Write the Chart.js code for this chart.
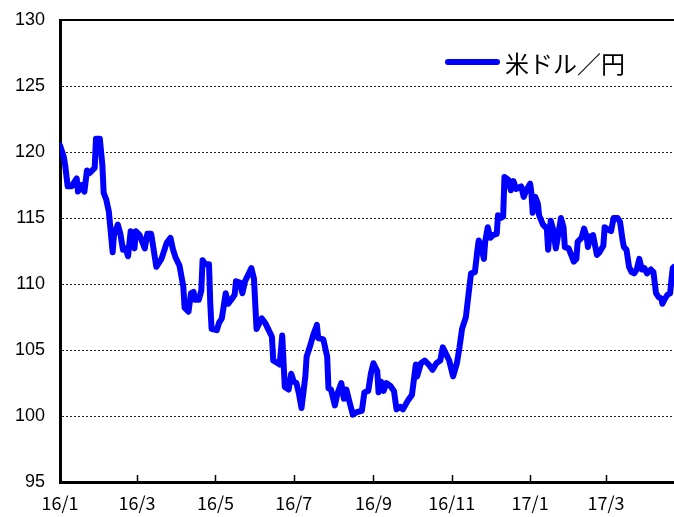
<!DOCTYPE html>
<html>
<head>
<meta charset="utf-8">
<script src="https://cdn.jsdelivr.net/npm/chart.js@4.4.0/dist/chart.umd.min.js"></script>
<style>
  html, body { margin: 0; padding: 0; background: #fff; }
  #wrap { position: relative; width: 674px; height: 517px; }
  #legend { position: absolute; left: 445px; top: 49px; height: 26px; line-height: 26px;
            font: 24px "Noto Sans CJK JP"; color: #000; display: flex; align-items: center; }
  #legend .bar { display: inline-block; width: 55px; height: 6px; border-radius: 3px;
                 background: #0000ff; margin-right: 5px; }
</style>
</head>
<body>
<div id="wrap">
  <canvas id="usdjpy" width="674" height="517"></canvas>
  <div id="legend"><span class="bar"></span>米ドル／円</div>
</div>
<script>
// days since 2016-01-01 and the USD/JPY rate
var days = [0, 3, 4, 6, 9, 13, 14, 17, 19, 21, 23, 27, 28, 31, 33, 34, 36, 38, 41, 42,
  45, 47, 49, 51, 53, 55, 58, 59, 62, 66, 68, 71, 75, 79, 83, 86, 88, 90, 93, 96,
  97, 100, 102, 104, 105, 108, 110, 111, 113, 116, 117, 118, 122, 124, 126, 129, 131, 134, 136, 137,
  140, 142, 144, 146, 149, 151, 153, 157, 160, 162, 165, 166, 171, 173, 175, 178, 180, 182, 184, 186,
  188, 191, 192, 195, 197, 200, 201, 205, 208, 209, 211, 214, 216, 219, 221, 223, 225, 228, 231, 235,
  237, 240, 242, 244, 247, 248, 250, 252, 254, 257, 260, 262, 265, 267, 271, 274, 277, 278, 281, 284,
  287, 290, 293, 296, 298, 301, 303, 306, 309, 311, 313, 316, 318, 320, 323, 325, 326, 328, 330, 331,
  333, 335, 337, 340, 341, 343, 345, 346, 349, 351, 353, 355, 359, 361, 363, 366, 367, 368, 370, 372,
  373, 376, 379, 380, 382, 384, 386, 388, 390, 392, 393, 396, 398, 400, 402, 403, 406, 408, 410, 411,
  413, 415, 418, 420, 423, 424, 427, 429, 431, 434, 436, 438, 439, 441, 443, 445, 447, 449, 451, 453,
  455, 457, 460, 462, 464, 466, 468, 469, 471, 473, 475, 476, 477, 478];
var rates = [120.5, 119.6, 119.0, 117.4, 117.4, 118.0, 117.0, 117.5, 117.0, 118.6, 118.4, 118.8, 121.0, 121.0, 119.0, 116.9, 116.4, 115.5, 112.4, 113.7,
  114.5, 113.8, 112.6, 112.7, 112.1, 114.0, 112.7, 114.0, 113.7, 112.7, 113.8, 113.8, 111.3, 111.9, 113.1, 113.5, 112.6, 112.0, 111.4, 109.8,
  108.2, 107.9, 109.3, 109.4, 108.8, 108.8, 109.5, 111.8, 111.5, 111.5, 108.5, 106.6, 106.5, 107.1, 107.4, 109.3, 108.5, 108.9, 109.2, 110.2,
  110.1, 109.3, 110.2, 110.6, 111.2, 110.4, 106.6, 107.4, 107.0, 106.6, 106.0, 104.2, 103.9, 106.1, 102.2, 102.0, 103.2, 102.6, 102.5, 101.7,
  100.6, 103.0, 104.5, 105.4, 106.1, 106.9, 105.9, 105.8, 104.5, 102.1, 102.0, 100.8, 101.7, 102.5, 101.3, 102.0, 101.2, 100.1, 100.3, 100.4,
  101.8, 101.9, 103.2, 104.0, 103.4, 101.8, 102.6, 101.9, 102.5, 102.3, 101.9, 100.5, 100.7, 100.5, 101.2, 101.6, 103.9, 103.0, 104.0, 104.2,
  103.9, 103.5, 104.0, 104.2, 105.2, 104.6, 104.2, 103.0, 104.0, 105.2, 106.6, 107.5, 109.2, 110.8, 110.9, 112.6, 113.3, 112.8, 111.9, 113.2,
  114.3, 113.5, 113.7, 113.8, 115.2, 115.0, 115.1, 118.1, 117.9, 117.1, 117.8, 117.2, 117.4, 116.6, 117.1, 117.6, 116.9, 115.4, 116.6, 116.1,
  115.2, 114.5, 114.2, 112.6, 114.8, 114.1, 112.7, 113.8, 115.0, 114.3, 112.8, 112.7, 112.2, 111.7, 111.9, 113.2, 113.5, 114.2, 113.6, 112.8,
  113.6, 113.7, 112.2, 112.4, 112.9, 114.3, 114.1, 114.0, 115.0, 115.0, 114.7, 113.3, 112.8, 112.6, 111.3, 110.9, 110.8, 111.1, 111.9, 111.1,
  111.2, 110.8, 111.1, 110.9, 109.3, 109.0, 108.9, 108.5, 108.9, 109.2, 109.3, 110.3, 111.2, 111.3];

// x-axis ticks: first day of every second month
var monthTicks = [0, 60, 121, 182, 244, 305, 366, 425];
var monthLabels = ['16/1', '16/3', '16/5', '16/7', '16/9', '16/11', '17/1', '17/3'];
var yMin = 95, yMax = 130, yStep = 5;

var points = days.map(function(d, i) { return { x: d, y: rates[i] }; });

// small tick marks inside the plot on the x axis, plus the top frame line
var frame = {
  id: 'frame',
  afterDraw: function(chart) {
    var ctx = chart.ctx, area = chart.chartArea, xs = chart.scales.x;
    ctx.save();
    ctx.strokeStyle = '#000';
    ctx.lineWidth = 1.5;
    monthTicks.forEach(function(d) {
      var px = Math.round(xs.getPixelForValue(d)) + 0.5;
      ctx.beginPath();
      ctx.moveTo(px, area.bottom);
      ctx.lineTo(px, area.bottom - 7);
      ctx.stroke();
    });
    ctx.lineWidth = 2;
    ctx.beginPath();
    ctx.moveTo(area.left, area.top);
    ctx.lineTo(area.right, area.top);
    ctx.stroke();
    ctx.restore();
  }
};

new Chart(document.getElementById('usdjpy'), {
  type: 'line',
  data: {
    datasets: [{
      label: '米ドル／円',
      data: points,
      borderColor: '#0000ff',
      borderWidth: 6,
      borderJoinStyle: 'round',
      borderCapStyle: 'round',
      pointRadius: 0,
      tension: 0,
      fill: false
    }]
  },
  options: {
    responsive: false,
    animation: false,
    layout: { padding: { top: 20, right: 0, bottom: 0, left: 0 } },
    plugins: { legend: { display: false }, tooltip: { enabled: false } },
    scales: {
      x: {
        type: 'linear',
        min: 0,
        max: 478,
        afterBuildTicks: function(scale) {
          scale.ticks = monthTicks.map(function(v) { return { value: v }; });
        },
        afterFit: function(scale) {
          scale.height = 35;
          scale.paddingLeft = 0;
          scale.paddingRight = 0;
        },
        grid: { display: false, drawTicks: false },
        border: { display: true, color: '#000', width: 3 },
        ticks: {
          autoSkip: false,
          maxRotation: 0,
          padding: 10,
          color: '#000',
          font: { family: 'Noto Sans CJK JP', size: 18 },
          callback: function(v, i) { return monthLabels[i]; }
        }
      },
      y: {
        min: yMin,
        max: yMax,
        afterFit: function(scale) {
          scale.width = 60;
          scale.paddingTop = 0;
          scale.paddingBottom = 0;
        },
        grid: {
          drawTicks: false,
          lineWidth: 1,
          color: function(c) {
            return (c.tick && (c.tick.value === yMin || c.tick.value === yMax)) ? 'rgba(0,0,0,0)' : '#222';
          }
        },
        border: { display: true, color: '#000', width: 3, dash: [2, 2] },
        ticks: {
          stepSize: yStep,
          padding: 15,
          color: '#000',
          font: { family: 'Liberation Sans', size: 18 }
        }
      }
    }
  },
  plugins: [frame]
});
</script>
</body>
</html>
